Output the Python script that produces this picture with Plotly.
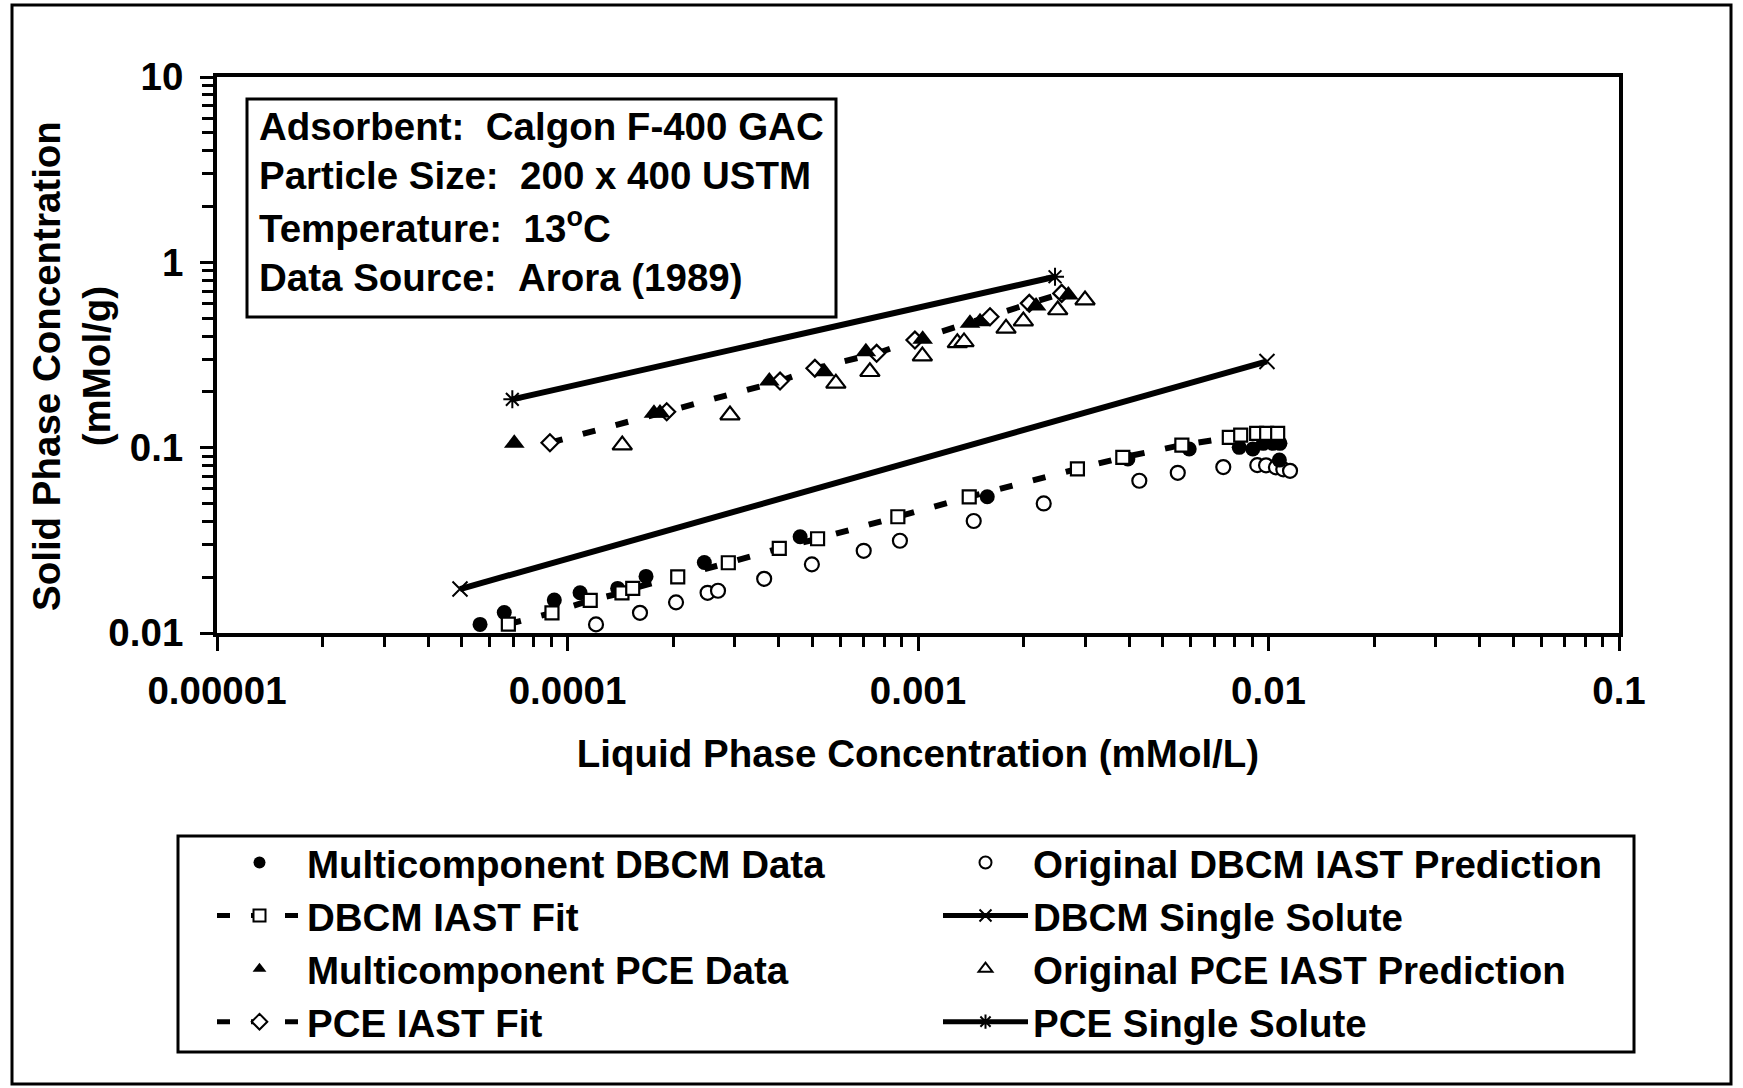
import plotly.graph_objects as go

# ---------------- data ----------------
dbcm_data_x = [5.63e-5, 6.60e-5, 9.17e-5, 1.086e-4, 1.39e-4, 1.675e-4, 2.457e-4, 4.61e-4,
               1.576e-3, 3.97e-3, 5.94e-3, 8.25e-3, 9.02e-3, 9.66e-3, 1.028e-2, 1.078e-2, 1.074e-2]
dbcm_data_y = [0.01113, 0.01291, 0.01505, 0.01648, 0.0174, 0.0202, 0.0240, 0.03305,
               0.0543, 0.0868, 0.0984, 0.1004, 0.0984, 0.1055, 0.1055, 0.1055, 0.0857]

dbcm_fit_x = [6.78e-5, 9.03e-5, 1.161e-4, 1.43e-4, 1.535e-4, 2.063e-4, 2.876e-4, 4.02e-4, 5.17e-4,
              8.76e-4, 1.40e-3, 2.85e-3, 3.84e-3, 5.66e-3, 7.73e-3, 8.33e-3, 9.25e-3, 9.88e-3, 1.062e-2]
dbcm_fit_y = [0.01117, 0.01285, 0.0150, 0.01648, 0.0174, 0.0201, 0.02393, 0.0286, 0.03225,
              0.0424, 0.0543, 0.0769, 0.0886, 0.1033, 0.1136, 0.117, 0.1195, 0.1195, 0.1195]

dbcm_pred_x = [1.206e-4, 1.61e-4, 2.04e-4, 2.51e-4, 2.688e-4, 3.64e-4, 4.98e-4, 7.0e-4, 8.88e-4,
               1.442e-3, 2.284e-3, 4.28e-3, 5.51e-3, 7.43e-3, 9.29e-3, 9.84e-3, 1.050e-2, 1.102e-2, 1.152e-2]
dbcm_pred_y = [0.01113, 0.01285, 0.01463, 0.01648, 0.0169, 0.0196, 0.02346, 0.02777, 0.03145,
               0.0402, 0.0500, 0.0663, 0.0732, 0.0786, 0.0805, 0.0803, 0.0783, 0.0764, 0.0750]

dbcm_single_x = [4.935e-5, 9.9e-3]
dbcm_single_y = [0.01726, 0.292]

pce_data_x = [7.05e-5, 1.765e-4, 1.836e-4, 3.765e-4, 5.40e-4, 7.10e-4, 1.031e-3, 1.407e-3,
              1.503e-3, 2.172e-3, 2.685e-3]
pce_data_y = [0.1055, 0.1532, 0.154, 0.2288, 0.2568, 0.3293, 0.384, 0.4685, 0.478, 0.581, 0.666]

pce_fit_x = [8.91e-5, 1.919e-4, 4.04e-4, 5.08e-4, 7.62e-4, 9.80e-4, 1.605e-3, 2.077e-3, 2.57e-3]
pce_fit_y = [0.1063, 0.1562, 0.2288, 0.268, 0.3228, 0.3807, 0.5086, 0.6007, 0.680]

pce_pred_x = [1.433e-4, 2.908e-4, 5.83e-4, 7.29e-4, 1.029e-3, 1.295e-3, 1.353e-3, 1.783e-3,
              1.998e-3, 2.504e-3, 2.996e-3]
pce_pred_y = [0.1033, 0.15, 0.2223, 0.2568, 0.312, 0.368, 0.372, 0.440, 0.482, 0.553, 0.626]

pce_single_x = [6.96e-5, 2.46e-3]
pce_single_y = [0.1823, 0.836]

x_tickvals = [1e-5, 1e-4, 1e-3, 1e-2, 1e-1]
x_ticktext = ["0.00001", "0.0001", "0.001", "0.01", "0.1"]
y_tickvals = [0.01, 0.1, 1, 10]
y_ticktext = ["0.01", "0.1", "1", "10"]

x_title = "Liquid Phase Concentration (mMol/L)"
y_title = "Solid Phase Concentration<br>(mMol/g)"

info_lines = ["Adsorbent:\u00a0\u00a0Calgon F-400 GAC",
              "Particle Size:\u00a0\u00a0200 x 400 USTM",
              "Temperature:\u00a0\u00a013<sup>o</sup>C",
              "Data Source:\u00a0\u00a0Arora (1989)"]

# ---------------- figure ----------------
W, H = 1743, 1088
L, R, T, B = 217, 1619, 77, 633
FONT = "Liberation Sans, Arial, sans-serif"
FS = 38.5
BLACK = "black"
LW = 6


def tfont():
    return dict(family=FONT, size=FS, color=BLACK, weight="bold")


fig = go.Figure()

fig.add_trace(go.Scatter(x=dbcm_single_x, y=dbcm_single_y, mode="lines+markers",
                         name="DBCM Single Solute", legend="legend2", legendrank=2,
                         line=dict(color=BLACK, width=LW),
                         marker=dict(symbol="x-thin", size=15, color=BLACK,
                                     line=dict(color=BLACK, width=2))))
fig.add_trace(go.Scatter(x=pce_single_x, y=pce_single_y, mode="lines+markers",
                         name="PCE Single Solute", legend="legend2", legendrank=4,
                         line=dict(color=BLACK, width=LW),
                         marker=dict(symbol="asterisk", size=15, color=BLACK,
                                     line=dict(color=BLACK, width=2))))
fig.add_trace(go.Scatter(x=dbcm_pred_x, y=dbcm_pred_y, mode="markers",
                         name="Original DBCM IAST Prediction", legend="legend2", legendrank=1,
                         marker=dict(symbol="circle", size=14, color="white",
                                     line=dict(color=BLACK, width=2.2))))
fig.add_trace(go.Scatter(x=pce_pred_x, y=pce_pred_y, mode="markers",
                         name="Original PCE IAST Prediction", legend="legend2", legendrank=3,
                         marker=dict(symbol="triangle-up", size=17, color="white",
                                     line=dict(color=BLACK, width=2.2))))
fig.add_trace(go.Scatter(x=dbcm_data_x, y=dbcm_data_y, mode="markers",
                         name="Multicomponent DBCM Data", legend="legend", legendrank=1,
                         marker=dict(symbol="circle", size=15, color=BLACK,
                                     line=dict(color=BLACK, width=0))))
fig.add_trace(go.Scatter(x=dbcm_fit_x, y=dbcm_fit_y, mode="lines+markers",
                         name="DBCM IAST Fit", legend="legend", legendrank=2,
                         line=dict(color=BLACK, width=LW, dash="13px,21px"),
                         marker=dict(symbol="square", size=13, color="white",
                                     line=dict(color=BLACK, width=2.2))))
fig.add_trace(go.Scatter(x=pce_fit_x, y=pce_fit_y, mode="lines+markers",
                         name="PCE IAST Fit", legend="legend", legendrank=4,
                         line=dict(color=BLACK, width=LW, dash="13px,21px"),
                         marker=dict(symbol="diamond", size=13, color="white",
                                     line=dict(color=BLACK, width=2.2))))
fig.add_trace(go.Scatter(x=pce_data_x, y=pce_data_y, mode="markers",
                         name="Multicomponent PCE Data", legend="legend", legendrank=3,
                         marker=dict(symbol="triangle-up", size=18, color=BLACK,
                                     line=dict(color=BLACK, width=0))))

minor_x = [m * 10.0 ** e for e in range(-5, -1) for m in range(2, 10)]
minor_y = [m * 10.0 ** e for e in range(-2, 1) for m in range(2, 10)]

axis_common = dict(type="log", showgrid=False, zeroline=False, showline=True,
                   linecolor=BLACK, linewidth=4, mirror=True, ticks="outside",
                   tickcolor=BLACK, tickwidth=3, tickfont=tfont())

fig.update_xaxes(range=[-5, -1], tickvals=x_tickvals, ticktext=x_ticktext, ticklen=14,
                 ticklabelstandoff=7,
                 minor=dict(tickvals=minor_x, ticks="outside", ticklen=10, tickwidth=3,
                            tickcolor=BLACK, showgrid=False),
                 title=dict(text=x_title, standoff=30, font=tfont()),
                 **axis_common)
fig.update_yaxes(range=[-2, 1], tickvals=y_tickvals, ticktext=y_ticktext, ticklen=13,
                 ticklabelstandoff=9,
                 minor=dict(tickvals=minor_y, ticks="outside", ticklen=11, tickwidth=3,
                            tickcolor=BLACK, showgrid=False),
                 **axis_common)


def px_x(p):
    return (p - L) / (R - L)


def px_y(p):
    return (B - p) / (B - T)


shapes = [
    # info box
    dict(type="rect", xref="paper", yref="paper", x0=px_x(247), x1=px_x(836),
         y0=px_y(317), y1=px_y(99), line=dict(color=BLACK, width=3), fillcolor="white",
         layer="below"),
    # legend box
    dict(type="rect", xref="paper", yref="paper", x0=px_x(178), x1=px_x(1634),
         y0=px_y(1052), y1=px_y(836), line=dict(color=BLACK, width=3)),
    # outer frame
    dict(type="rect", xref="paper", yref="paper", x0=px_x(12), x1=px_x(1731),
         y0=px_y(1084), y1=px_y(5), line=dict(color=BLACK, width=3)),
]

info_y = [126, 175, 226, 277]
annotations = []
for txt, yy in zip(info_lines, info_y):
    annotations.append(dict(text=txt, xref="paper", yref="paper", x=px_x(257), y=px_y(yy),
                            xanchor="left", yanchor="middle", showarrow=False, font=tfont()))
# y-axis title (two lines, rotated)
annotations.append(dict(text=y_title, xref="paper", yref="paper", x=px_x(71), y=px_y(366),
                        xanchor="center", yanchor="middle", textangle=-90, showarrow=False,
                        font=tfont()))

legend_common = dict(xref="container", yref="container", xanchor="left", yanchor="top",
                     orientation="v", itemwidth=85, borderwidth=0,
                     bgcolor="rgba(0,0,0,0)", itemsizing="constant", traceorder="normal",
                     font=tfont())

fig.update_layout(
    width=W, height=H,
    margin=dict(l=L, r=W - R, t=T, b=H - B, autoexpand=False),
    paper_bgcolor="white", plot_bgcolor="white",
    shapes=shapes, annotations=annotations,
    showlegend=True,
    legend=dict(x=212 / W, y=1 - 831 / H, **legend_common),
    legend2=dict(x=938 / W, y=1 - 831 / H, **legend_common),
)

fig.write_html("out.html")
